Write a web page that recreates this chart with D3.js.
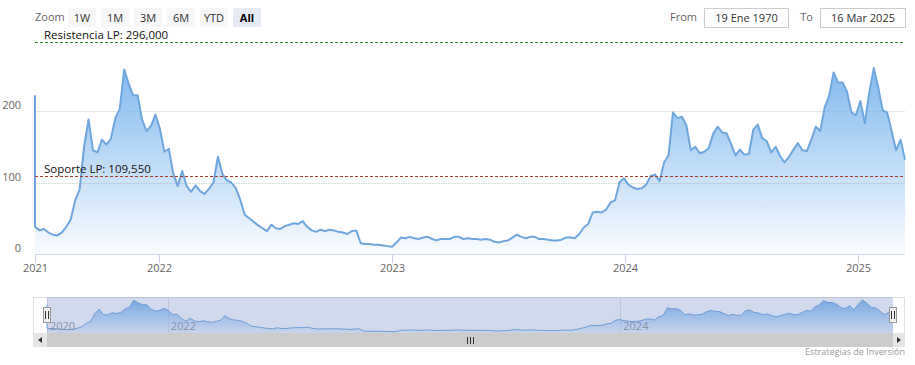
<!DOCTYPE html>
<html><head><meta charset="utf-8">
<script src="https://cdn.jsdelivr.net/npm/d3@7"></script>
<style>
html,body{margin:0;padding:0;background:#fff;}
svg{display:block;font-family:"Open Sans","Noto Sans","DejaVu Sans",sans-serif;}
</style></head><body>
<svg id="chart" width="915" height="365"></svg>
<script>
// ---------- DATA ----------
const firstDate = "1970-01-19";
const firstValue = 222;
const weeklyStart = "2021-06-20";
const weeklyEnd = "2025-03-16";
const values = [
 38,33,35,30,27,26,30,38,48,75,
 90,150,188,145,142,160,153,161,190,203,
 258,238,222,222,188,172,179,195,175,143,
 147,112,95,116,95,87,96,88,84,91,
 100,136,112,103,100,92,76,55,50,45,
 40,36,32,41,36,35,39,41,43,42,
 46,38,33,31,34,32,34,33,31,30,
 28,32,33,15,14,14,13,13,12,11,
 10,16,23,22,24,22,21,23,24,21,
 19,21,21,21,24,24,21,22,21,21,
 20,21,20,17,16,18,19,23,27,24,
 22,24,24,21,21,20,19,19,20,23,
 23,22,28,37,42,58,59,58,62,72,
 75,100,106,97,93,91,92,97,109,111,
 102,128,138,198,190,192,180,145,150,141,
 143,148,168,178,170,169,154,138,146,139,
 140,174,181,162,158,142,150,137,128,136,
 146,155,145,144,160,178,172,205,221,254,
 240,240,227,198,194,214,183,226,260,233,
 201,198,172,145,160,132
];
const yTicks = [0, 100, 200];
const yMax = 300;
const xTickYears = ["2021", "2022", "2023", "2024", "2025"];
const navTickYears = ["2020", "2022", "2024"];
const zoomButtons = ["1W", "1M", "3M", "6M", "YTD", "All"];
const selectedButton = "All";
const fromLabel = "From", toLabel = "To";
const fromText = "19 Ene 1970";
const toText = "16 Mar 2025";
const plotLineLabels = ["Resistencia LP: 296,000", "Soporte LP: 109,550"];
const plotLineValues = [296, 109.55];
const plotLineColors = ["#2f8f2f", "#a33a2a"];
const creditsText = "Estrategias de Inversión";

// ---------- BUILD ----------
const parse = d3.utcParse("%Y-%m-%d");
const wStart = parse(weeklyStart), wEnd = parse(weeklyEnd);
const weeklyDates = d3.utcWeek.range(wStart, d3.utcDay.offset(wEnd, 1)).slice(0, values.length);
const data = [{date: parse(firstDate), value: firstValue}]
  .concat(weeklyDates.map((d, i) => ({date: d, value: values[i]})));

const svg = d3.select("#chart");
const defs = svg.append("defs");

const L = 35, R = 905, T = 39.5, B = 254;
const x = d3.scaleUtc().domain([wStart, wEnd]).range([L, R]).clamp(true);
const y = d3.scaleLinear().domain([0, yMax]).range([B, T]);

// gradient
const g1 = defs.append("linearGradient").attr("id", "areaGrad")
  .attr("gradientUnits", "userSpaceOnUse").attr("x1", 0).attr("x2", 0)
  .attr("y1", y(d3.max(values))).attr("y2", B);
g1.append("stop").attr("offset", 0).attr("stop-color", "#7cb5ec").attr("stop-opacity", 0.95);
g1.append("stop").attr("offset", 1).attr("stop-color", "#7cb5ec").attr("stop-opacity", 0.04);

// grid
svg.append("g").selectAll("line").data(yTicks.filter(v => v > 0)).join("line")
  .attr("x1", L).attr("x2", R).attr("y1", d => Math.round(y(d)) + 0.5).attr("y2", d => Math.round(y(d)) + 0.5)
  .attr("stroke", "#e6e6e6").attr("stroke-width", 1);

// y labels
svg.append("g").selectAll("text").data(yTicks).join("text")
  .attr("x", 21).attr("y", d => y(d) - 2).attr("text-anchor", "end")
  .attr("font-size", 11).attr("fill", "#666").text(d => d);

// area + line
const area = d3.area().x(d => x(d.date)).y0(B).y1(d => y(d.value));
const line = d3.line().x(d => x(d.date)).y(d => y(d.value));
svg.append("path").datum(data).attr("d", area).attr("fill", "url(#areaGrad)");
svg.append("path").datum(data).attr("d", line).attr("fill", "none")
  .attr("stroke", "#6ea6dd").attr("stroke-width", 2).attr("stroke-linejoin", "round");

// x axis
svg.append("line").attr("x1", L).attr("x2", R).attr("y1", B + 0.5).attr("y2", B + 0.5)
  .attr("stroke", "#ccd6eb");
const xTickDates = xTickYears.map(s => parse(s + "-01-01"));
const xt = svg.append("g").selectAll("g").data(xTickDates).join("g")
  .attr("transform", d => `translate(${Math.round(x(d)) + 0.5},0)`);
xt.append("line").attr("y1", B).attr("y2", B + 9).attr("stroke", "#ccd6eb");
xt.append("text").attr("y", 272).attr("text-anchor", "middle").attr("font-size", 11)
  .attr("fill", "#666").text((d, i) => xTickYears[i]);

// plot lines
plotLineValues.forEach((v, i) => {
  svg.append("line").attr("x1", L).attr("x2", R)
    .attr("y1", Math.round(y(v)) + 0.5).attr("y2", Math.round(y(v)) + 0.5)
    .attr("stroke", plotLineColors[i]).attr("stroke-width", 1).attr("stroke-dasharray", "3,2");
  svg.append("text").attr("x", 44).attr("y", y(v) - 3).attr("font-size", 11.5)
    .attr("fill", "#111").text(plotLineLabels[i]);
});

// ---------- range selector ----------
svg.append("text").attr("x", 35).attr("y", 21).attr("font-size", 11).attr("fill", "#666").text("Zoom");
const bw = 28, bs = 5, bx0 = 68;
const btn = svg.append("g").selectAll("g").data(zoomButtons).join("g")
  .attr("transform", (d, i) => `translate(${bx0 + i * (bw + bs)},8)`);
btn.append("rect").attr("width", bw + (d => 0)).attr("width", bw).attr("height", 19)
  .attr("fill", d => d === selectedButton ? "#e6ebf5" : "#f7f7f7");
btn.append("text").attr("x", bw / 2).attr("y", 13.5).attr("text-anchor", "middle")
  .attr("font-size", 11).attr("font-weight", d => d === selectedButton ? "bold" : "normal")
  .attr("fill", d => d === selectedButton ? "#000" : "#333").text(d => d);

const inputs = [
  {label: fromLabel, text: fromText, lx: 697, bx: 704, bw: 84},
  {label: toLabel, text: toText, lx: 813, bx: 820, bw: 85}
];
inputs.forEach(o => {
  svg.append("text").attr("x", o.lx).attr("y", 21).attr("text-anchor", "end")
    .attr("font-size", 11).attr("fill", "#666").text(o.label);
  svg.append("rect").attr("x", o.bx + 0.5).attr("y", 8.5).attr("width", o.bw).attr("height", 19)
    .attr("fill", "#fff").attr("stroke", "#cccccc");
  svg.append("text").attr("x", o.bx + o.bw / 2 + 0.5).attr("y", 21.5).attr("text-anchor", "middle")
    .attr("font-size", 11).attr("fill", "#333").text(o.text);
});

// ---------- navigator ----------
const NL = 47, NR = 893, NT = 297, NB = 333;
const nx = d3.scaleUtc().domain([wStart, wEnd]).range([NL, NR]).clamp(true);
const ny = d3.scaleLinear().domain([0, d3.max(values)]).range([NB, NT + 3]);
const g2 = defs.append("linearGradient").attr("id", "navGrad")
  .attr("gradientUnits", "userSpaceOnUse").attr("x1", 0).attr("x2", 0)
  .attr("y1", NT + 3).attr("y2", NB);
g2.append("stop").attr("offset", 0).attr("stop-color", "#7cb5ec").attr("stop-opacity", 0.95);
g2.append("stop").attr("offset", 1).attr("stop-color", "#7cb5ec").attr("stop-opacity", 0.1);

svg.append("rect").attr("x", 33.5).attr("y", NT + 0.5).attr("width", 871).attr("height", NB - NT)
  .attr("fill", "#fff").attr("stroke", "#e0e0e0");
// nav grid
const navDates = navTickYears.map(s => parse(s + "-01-01"));
svg.append("g").selectAll("line").data(navDates).join("line")
  .attr("x1", d => Math.round(nx(d)) + 0.5).attr("x2", d => Math.round(nx(d)) + 0.5)
  .attr("y1", NT).attr("y2", NB).attr("stroke", "#e6e6e6");
const narea = d3.area().x(d => nx(d.date)).y0(NB).y1(d => ny(d.value));
const nline = d3.line().x(d => nx(d.date)).y(d => ny(d.value));
svg.append("path").datum(data).attr("d", narea).attr("fill", "url(#navGrad)");
svg.append("path").datum(data).attr("d", nline).attr("fill", "none")
  .attr("stroke", "#6ea6dd").attr("stroke-width", 1);
svg.append("g").selectAll("text").data(navDates).join("text")
  .attr("x", d => nx(d) + 3).attr("y", 330).attr("font-size", 11).attr("fill", "#999")
  .text((d, i) => navTickYears[i]);
// mask (selected range)
svg.append("rect").attr("x", NL).attr("y", NT).attr("width", NR - NL).attr("height", NB - NT)
  .attr("fill", "rgba(102,133,194,0.3)");
// handles
[NL, NR].forEach(hx => {
  const h = svg.append("g").attr("transform", `translate(${Math.round(hx)},0)`);
  h.append("rect").attr("x", -3.5).attr("y", 307.5).attr("width", 7).attr("height", 15)
    .attr("fill", "#f2f2f2").attr("stroke", "#999");
  h.append("line").attr("x1", -1.5).attr("x2", -1.5).attr("y1", 311).attr("y2", 319).attr("stroke", "#333");
  h.append("line").attr("x1", 1.5).attr("x2", 1.5).attr("y1", 311).attr("y2", 319).attr("stroke", "#333");
});
// scrollbar
svg.append("rect").attr("x", 33).attr("y", NB).attr("width", 872).attr("height", 14).attr("fill", "#f2f2f2");
svg.append("rect").attr("x", NL).attr("y", NB).attr("width", NR - NL).attr("height", 14).attr("fill", "#cccccc");
svg.append("rect").attr("x", 33).attr("y", NB).attr("width", 14).attr("height", 14).attr("fill", "#e6e6e6");
svg.append("rect").attr("x", NR).attr("y", NB).attr("width", 12).attr("height", 14).attr("fill", "#e6e6e6");
svg.append("path").attr("d", `M42,337 L38,340 L42,343 Z`).attr("fill", "#333");
svg.append("path").attr("d", `M897,337 L901,340 L897,343 Z`).attr("fill", "#333");
const gx = (NL + NR) / 2;
[-3, 0, 3].forEach(o => svg.append("line").attr("x1", gx + o + 0.5).attr("x2", gx + o + 0.5)
  .attr("y1", 337).attr("y2", 344).attr("stroke", "#333"));

// credits
svg.append("text").attr("x", 905).attr("y", 355).attr("text-anchor", "end")
  .attr("font-size", 9).attr("fill", "#999").text(creditsText);
</script>
</body></html>
